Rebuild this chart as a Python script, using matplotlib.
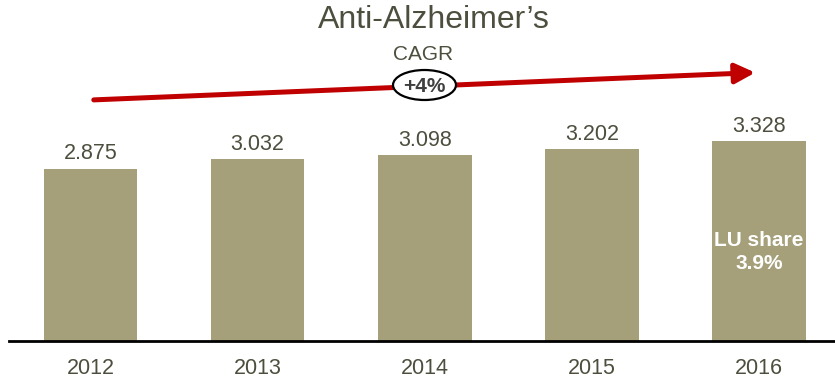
import matplotlib

matplotlib.use("Agg")
import matplotlib.pyplot as plt
from matplotlib.patches import Ellipse, FancyArrowPatch

plt.rcParams["font.family"] = ["Liberation Sans", "DejaVu Sans"]

years = ["2012", "2013", "2014", "2015", "2016"]
sales = [2.875, 3.032, 3.098, 3.202, 3.328]
value_labels = ["2.875", "3.032", "3.098", "3.202", "3.328"]
title = "Anti-Alzheimer\u2019s"
cagr_label = "CAGR"
cagr_value = "+4%"
share_note = "LU share\n3.9%"

W, H = 835, 378
BAR = "#A59F7A"
TEXT = "#4E4E3E"
RED = "#C00000"


def fpx(x, y):
    # pixel position measured from the top-left corner -> figure fraction
    return x / W, 1 - y / H


fig = plt.figure(figsize=(W / 100, H / 100), dpi=100)
ax = fig.add_axes([9 / W, 37 / H, 1 - 9 / W, 1 - 37 / H])

x = range(len(years))
ax.bar(x, sales, width=0.56, color=BAR, zorder=2)
for xi, v, lab in zip(x, sales, value_labels):
    ax.annotate(lab, (xi, v), xytext=(0, 3), textcoords="offset points",
                ha="center", va="bottom", fontsize=15.5, color=TEXT)

ax.text(len(years) - 1, sales[-1] * 0.445, share_note, ha="center", va="center",
        fontsize=15, fontweight="bold", color="white", linespacing=1.3, zorder=3)

ax.set_xlim(-0.488, 4.455)
ax.set_ylim(0, 341 / 60)
ax.set_xticks(list(x))
ax.set_xticklabels(years, fontsize=15.5, color=TEXT)
ax.tick_params(axis="x", length=0, pad=12)
ax.set_yticks([])
for side in ("top", "left", "right"):
    ax.spines[side].set_visible(False)
ax.spines["bottom"].set_linewidth(2)
ax.spines["bottom"].set_color("black")

fig.text(*fpx(434, 20), title, ha="center", va="center", fontsize=23, color=TEXT)
fig.text(*fpx(423, 55), cagr_label, ha="center", va="center", fontsize=15, color=TEXT)

arrow = FancyArrowPatch(fpx(91, 100), fpx(758, 72.5), transform=fig.transFigure,
                        arrowstyle="-|>,head_length=1.2,head_width=0.6",
                        mutation_scale=10, color=RED, lw=3.6, zorder=3)
fig.add_artist(arrow)

cx, cy = fpx(424.5, 85)
oval = Ellipse((cx, cy), 63 / W, 30 / H, transform=fig.transFigure,
               facecolor="white", edgecolor="black", lw=1.6, zorder=4)
fig.add_artist(oval)
fig.text(cx, cy - 2 / H, cagr_value, ha="center", va="center", fontsize=15,
         fontweight="bold", color="#3F3F3F", zorder=5)

fig.savefig("out.png", dpi=100)
